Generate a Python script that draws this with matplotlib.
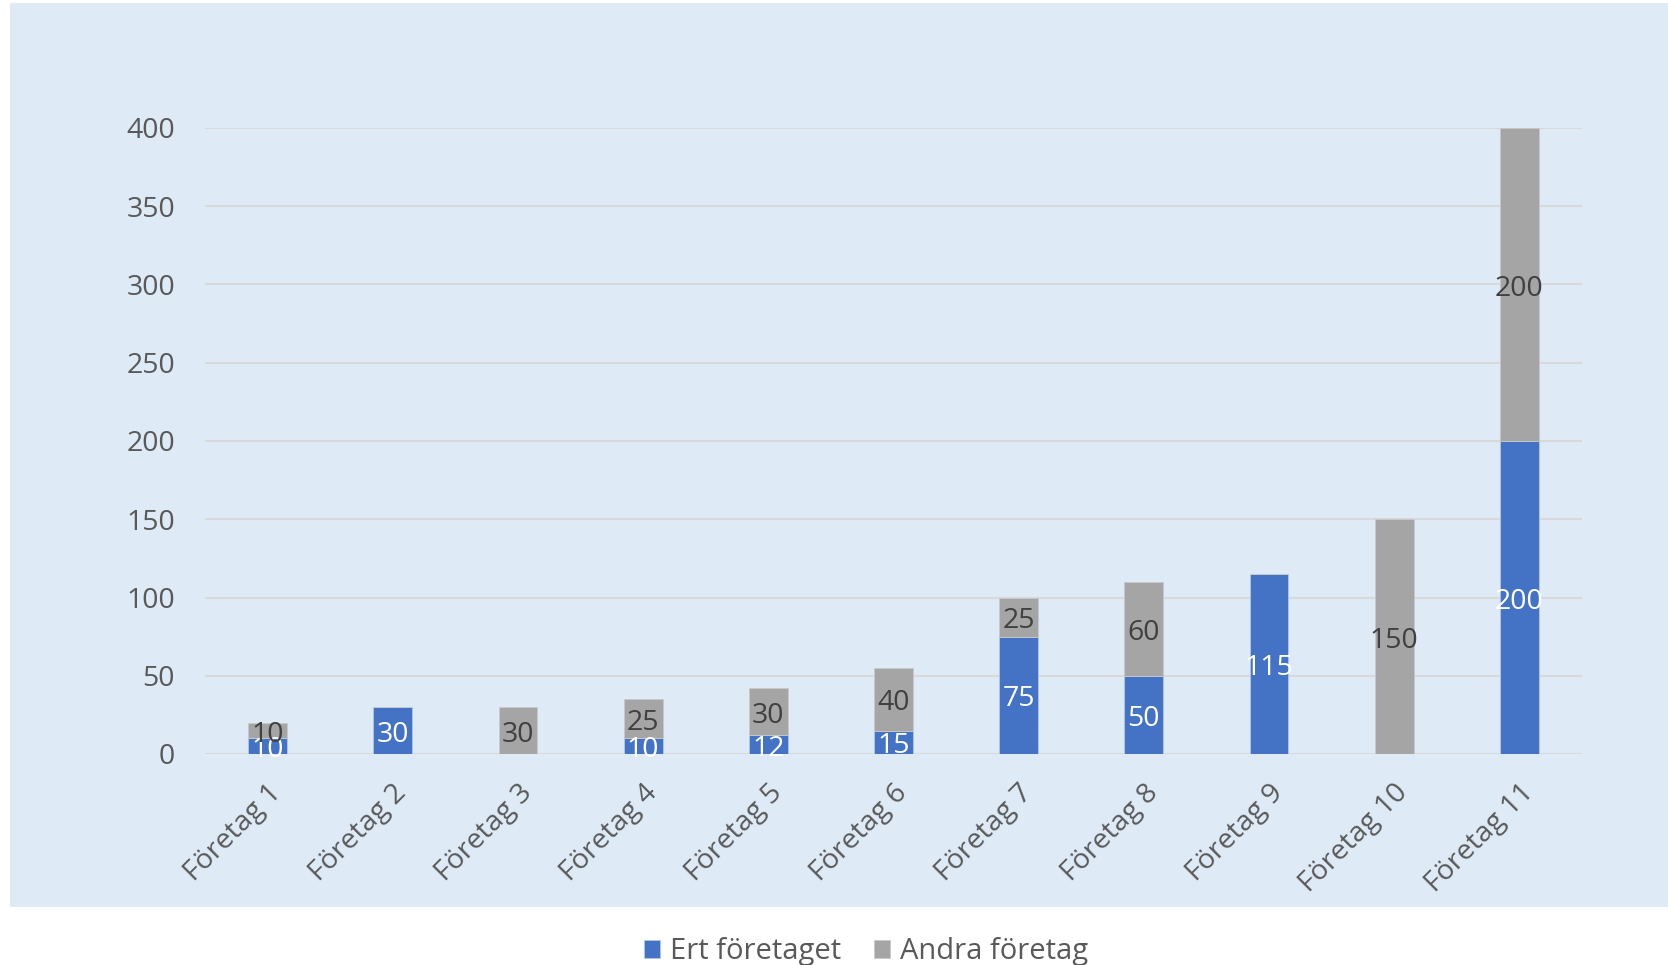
import matplotlib
matplotlib.use("Agg")
import matplotlib.pyplot as plt
from matplotlib.patches import Rectangle

categories = ["Företag 1", "Företag 2", "Företag 3", "Företag 4", "Företag 5", "Företag 6",
              "Företag 7", "Företag 8", "Företag 9", "Företag 10", "Företag 11"]
ert = [10, 30, 0, 10, 12, 15, 75, 50, 115, 0, 200]
andra = [10, 0, 30, 25, 30, 40, 25, 60, 0, 150, 200]
series_names = ["Ert företaget", "Andra företag"]
yticks = [0, 50, 100, 150, 200, 250, 300, 350, 400]

plt.rcParams['font.family'] = ['Open Sans', 'DejaVu Sans']

W, H = 1668, 965
fig = plt.figure(figsize=(W / 100, H / 100), dpi=100)
fig.patch.set_facecolor("white")
bg = "#DEEAF6"
fig.patches.append(Rectangle((10 / W, 1 - 907 / H), 1 - 10 / W, (907 - 3) / H,
                             transform=fig.transFigure, facecolor=bg, edgecolor="none", zorder=-10))

ax = fig.add_axes([205 / W, 1 - 754 / H, (1582 - 205) / W, (754 - 128) / H])
ax.set_facecolor("none")
x = list(range(len(categories)))
blue = "#4472C4"
gray = "#A5A5A5"
w = 0.31
fs = 20.5
b1 = ax.bar(x, ert, width=w, color=blue, edgecolor="#B4C7E7", linewidth=0.6, label=series_names[0], zorder=3)
b2 = ax.bar(x, andra, width=w, bottom=ert, color=gray, edgecolor="#C9C9C9", linewidth=0.6, label=series_names[1], zorder=3)

for i in x:
    if ert[i] > 0:
        ax.annotate(str(ert[i]), (i, ert[i] / 2), xytext=(0, -3), textcoords="offset points",
                    ha="center", va="center", color="white", fontsize=fs, zorder=5)
    if andra[i] > 0:
        ax.annotate(str(andra[i]), (i, ert[i] + andra[i] / 2), xytext=(0, -3), textcoords="offset points",
                    ha="center", va="center", color="#404040", fontsize=fs, zorder=5)

ax.set_xlim(-0.5, len(categories) - 0.5)
ax.set_ylim(0, 400)
ax.set_yticks(yticks)
ax.set_yticklabels([str(v) for v in yticks])
ax.yaxis.grid(True, color="#D9D9D9", linewidth=1.5, zorder=1)
ax.set_axisbelow(True)
for s in ax.spines.values():
    s.set_visible(False)
ax.tick_params(axis="y", length=0, pad=21.5, labelsize=fs, labelcolor="#595959")
ax.tick_params(axis="x", length=0, pad=18, labelsize=fs, labelcolor="#595959")
ax.set_xticks(x)
ax.set_xticklabels(categories, rotation=45, ha="right", va="top", rotation_mode="anchor")

fig.legend(handles=[b1, b2], labels=series_names, loc="center", bbox_to_anchor=(866 / W, 1 - 952 / H),
           ncol=2, frameon=False, fontsize=21, labelcolor="#595959", handlelength=0.55, handleheight=0.55,
           handletextpad=0.35, columnspacing=1.1)

fig.savefig("out.png", dpi=100)
